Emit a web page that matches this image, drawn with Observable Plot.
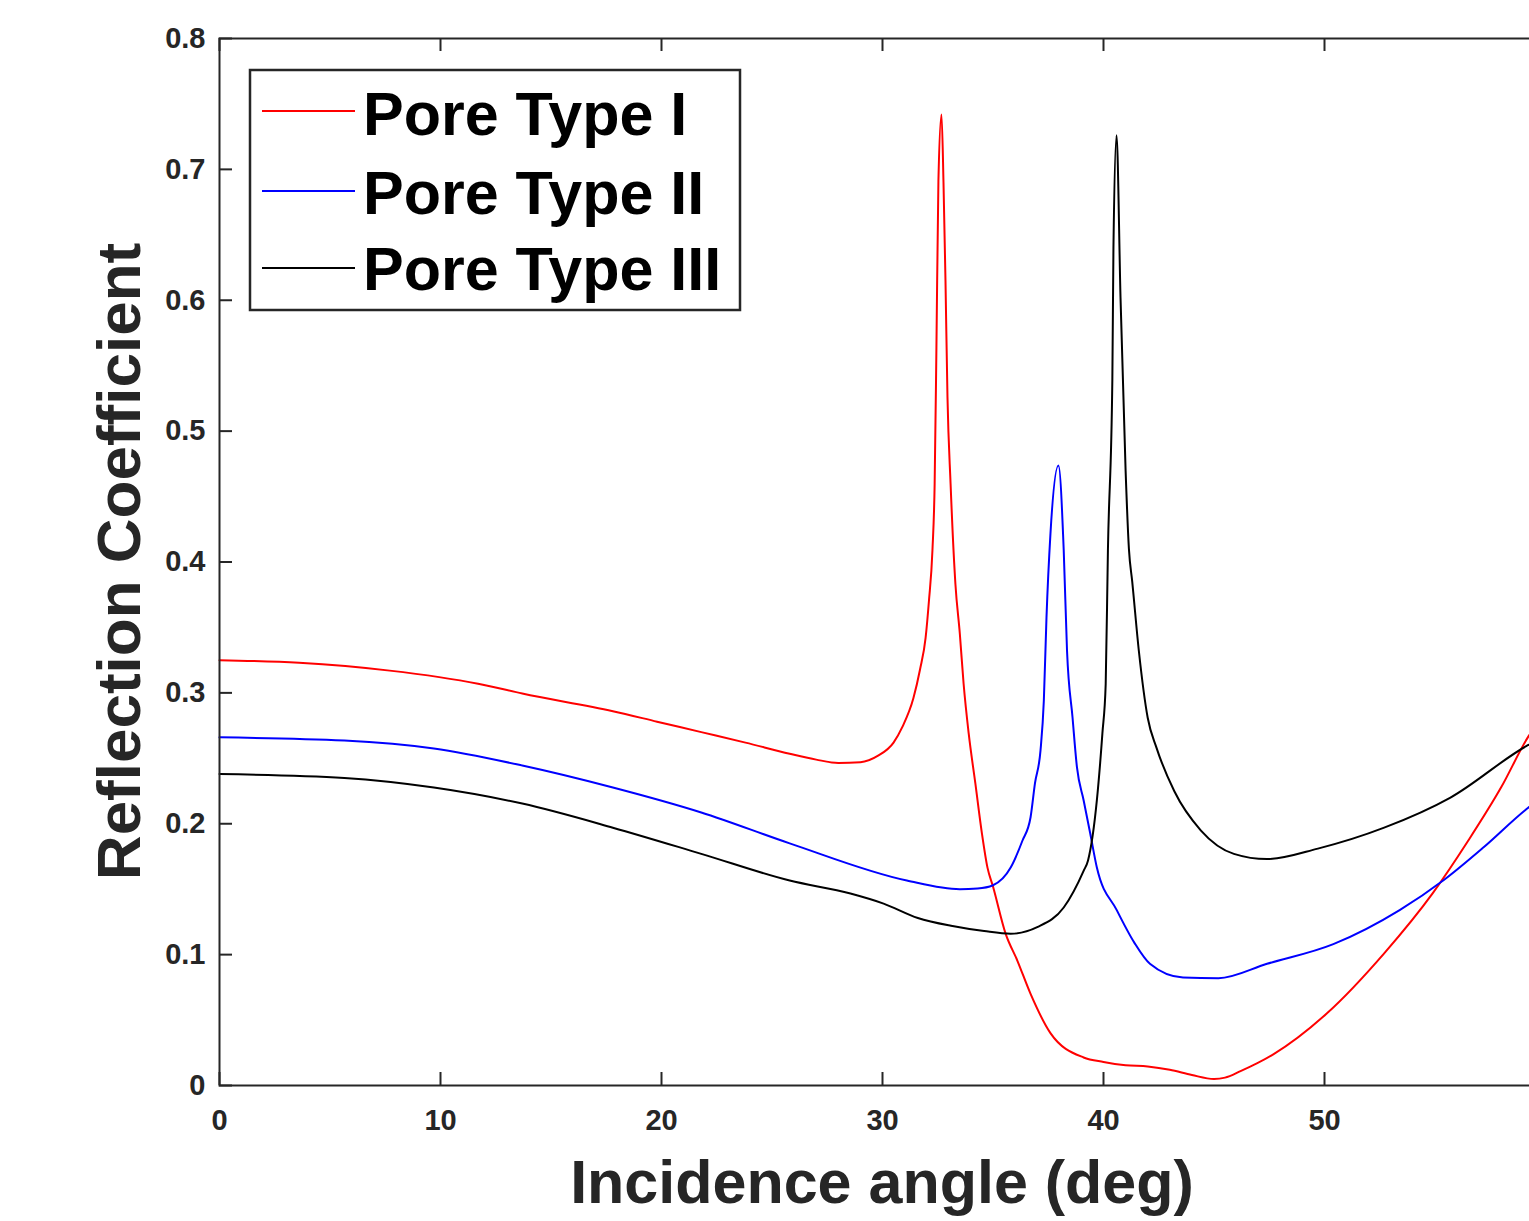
<!DOCTYPE html>
<html>
<head>
<meta charset="utf-8">
<script src="https://cdn.jsdelivr.net/npm/d3@7"></script>
<script src="https://cdn.jsdelivr.net/npm/@observablehq/plot@0.6"></script>
<style>
  html, body { margin: 0; padding: 0; overflow: hidden; background: #fff; }
  #chart svg { max-width: none !important; width: 1600px !important; height: 1221px !important; display: block; }
</style>
</head>
<body>
<div id="chart"></div>
<script>
// ---- data ----
const seriesNames = ["Pore Type I", "Pore Type II", "Pore Type III"];
const seriesColors = ["#ff0000", "#0000ff", "#000000"];

const redAngle = [0, 3.6, 7.7, 11.7, 13.7, 17.8, 19.8, 21.8, 23.8, 25.8, 27, 28, 29, 29.8, 30.5, 30.9, 31.4, 31.7, 31.95, 32.1, 32.26, 32.36, 32.44, 32.53, 32.67, 32.76, 32.85, 32.94, 33.08, 33.3, 33.5, 33.67, 33.9, 34.2, 34.5, 34.75, 35.0, 35.57, 36.1, 36.7, 37.6, 39.1, 40, 41, 42, 43, 44, 45, 45.5, 46.2, 47.7, 50.1, 52.7, 54.9, 56.5, 58, 59.2, 60];
const redR = [0.325, 0.323, 0.317, 0.307, 0.2995, 0.286, 0.278, 0.270, 0.262, 0.2535, 0.249, 0.2465, 0.247, 0.252, 0.262, 0.274, 0.296, 0.318, 0.342, 0.37, 0.409, 0.46, 0.564, 0.691, 0.742, 0.69, 0.615, 0.526, 0.46, 0.383, 0.345, 0.307, 0.269, 0.231, 0.1925, 0.1665, 0.152, 0.116, 0.0955, 0.070, 0.040, 0.0214, 0.018, 0.0155, 0.0145, 0.012, 0.008, 0.005, 0.006, 0.011, 0.024, 0.055, 0.101, 0.147, 0.187, 0.228, 0.266, 0.285];

const blueAngle = [0, 5.65, 9.7, 13.7, 17.8, 21.8, 25.8, 31.1, 33.5, 34.3, 35.0, 35.8, 36.33, 36.7, 36.9, 37.15, 37.3, 37.42, 37.6, 37.96, 38.2, 38.35, 38.6, 38.8, 39.1, 39.4, 39.7, 40.6, 41.4, 42.1, 43.6, 45.2, 47.4, 50.4, 53.4, 55.4, 57.2, 59.2, 60];
const blueR = [0.266, 0.2636, 0.2575, 0.2445, 0.2277, 0.2086, 0.185, 0.1566, 0.150, 0.1505, 0.153, 0.1665, 0.187, 0.205, 0.231, 0.256, 0.294, 0.3575, 0.4217, 0.4737, 0.409, 0.332, 0.281, 0.243, 0.218, 0.1925, 0.1665, 0.134, 0.109, 0.093, 0.0825, 0.082, 0.093, 0.108, 0.134, 0.157, 0.182, 0.212, 0.222];

const blackAngle = [0, 5.65, 9.7, 13.7, 17.8, 21.8, 25.8, 28.55, 30.05, 31.6, 33.1, 34.6, 35.8, 37.0, 38.2, 39.1, 39.3, 39.7, 39.95, 40.1, 40.2, 40.4, 40.45, 40.59, 40.77, 41.0, 41.15, 41.3, 41.6, 42.0, 42.4, 43.2, 44.4, 45.9, 47.4, 49.7, 52.7, 55.7, 59.2, 60];
const blackR = [0.238, 0.235, 0.2277, 0.2154, 0.197, 0.177, 0.1566, 0.1467, 0.139, 0.128, 0.122, 0.118, 0.116, 0.121, 0.136, 0.164, 0.172, 0.218, 0.269, 0.307, 0.409, 0.539, 0.64, 0.726, 0.602, 0.47, 0.41, 0.385, 0.332, 0.281, 0.258, 0.225, 0.195, 0.177, 0.173, 0.181, 0.197, 0.22, 0.26, 0.267];

const xTicks = [0, 10, 20, 30, 40, 50, 60];
const yTicks = [0, 0.1, 0.2, 0.3, 0.4, 0.5, 0.6, 0.7, 0.8];
const xTitle = "Incidence angle (deg)";
const yTitle = "Reflection Coefficient";

// ---- build table ----
const angles = [redAngle, blueAngle, blackAngle];
const values = [redR, blueR, blackR];
const rows = [];
seriesNames.forEach((name, i) => {
  angles[i].forEach((a, j) => rows.push({series: name, angle: a, r: values[i][j]}));
});

const W = 1600, H = 1221;
const mL = 219, mR = 55, mT = 38, mB = 136;
const frameW = W - mL - mR, frameH = H - mT - mB;
const axisColor = "#262626";
const tickLen = 13;
const font = "'Liberation Sans', Arial, Helvetica, sans-serif";

const chart = Plot.plot({
  width: W,
  height: H,
  marginLeft: mL, marginRight: mR, marginTop: mT, marginBottom: mB,
  style: {fontFamily: font, background: "#fff", overflow: "visible", maxWidth: "none"},
  x: {domain: [0, 60], label: null},
  y: {domain: [0, 0.8], label: null},
  color: {domain: seriesNames, range: seriesColors},
  marks: [
    Plot.line(rows, {x: "angle", y: "r", z: "series", stroke: "series", strokeWidth: 2, curve: "monotone-x"}),
    Plot.frame({stroke: axisColor, strokeWidth: 2}),
    Plot.tickX(xTicks, {x: d => d, insetTop: frameH - tickLen, stroke: axisColor, strokeWidth: 2}),
    Plot.tickX(xTicks, {x: d => d, insetBottom: frameH - tickLen, stroke: axisColor, strokeWidth: 2}),
    Plot.tickY(yTicks, {y: d => d, insetRight: frameW - tickLen, stroke: axisColor, strokeWidth: 2}),
    Plot.tickY(yTicks, {y: d => d, insetLeft: frameW - tickLen, stroke: axisColor, strokeWidth: 2}),
    Plot.axisX(xTicks, {tickSize: 0, tickPadding: 24, fontSize: 29, fontWeight: "bold", fill: axisColor, label: null, tickFormat: d => String(d)}),
    Plot.axisY(yTicks, {tickSize: 0, tickPadding: 14, fontSize: 29, fontWeight: "bold", fill: axisColor, label: null, tickFormat: d => (d === 0 ? "0" : d.toFixed(1))})
  ]
});

const svg = d3.select(chart);

// axis titles
svg.append("text")
  .attr("x", mL + frameW / 2).attr("y", 1203)
  .attr("text-anchor", "middle")
  .attr("font-family", font).attr("font-size", 61).attr("font-weight", "bold")
  .attr("fill", axisColor)
  .text(xTitle);

svg.append("text")
  .attr("transform", `translate(140, ${mT + frameH / 2}) rotate(-90)`)
  .attr("text-anchor", "middle")
  .attr("font-family", font).attr("font-size", 62).attr("font-weight", "bold")
  .attr("fill", axisColor)
  .text(yTitle);

// legend
const lg = svg.append("g");
lg.append("rect")
  .attr("x", 250).attr("y", 70).attr("width", 490).attr("height", 240)
  .attr("fill", "#fff").attr("stroke", axisColor).attr("stroke-width", 2.5);
const lineYs = [111, 191, 268];
const baseYs = [135, 214, 290];
seriesNames.forEach((name, i) => {
  lg.append("line")
    .attr("x1", 262).attr("x2", 355).attr("y1", lineYs[i]).attr("y2", lineYs[i])
    .attr("stroke", seriesColors[i]).attr("stroke-width", 2);
  lg.append("text")
    .attr("x", 363).attr("y", baseYs[i])
    .attr("text-anchor", "start")
    .attr("font-family", font).attr("font-size", 61).attr("font-weight", "bold")
    .attr("fill", "#000")
    .text(name);
});

document.getElementById("chart").appendChild(chart);
</script>
</body>
</html>
